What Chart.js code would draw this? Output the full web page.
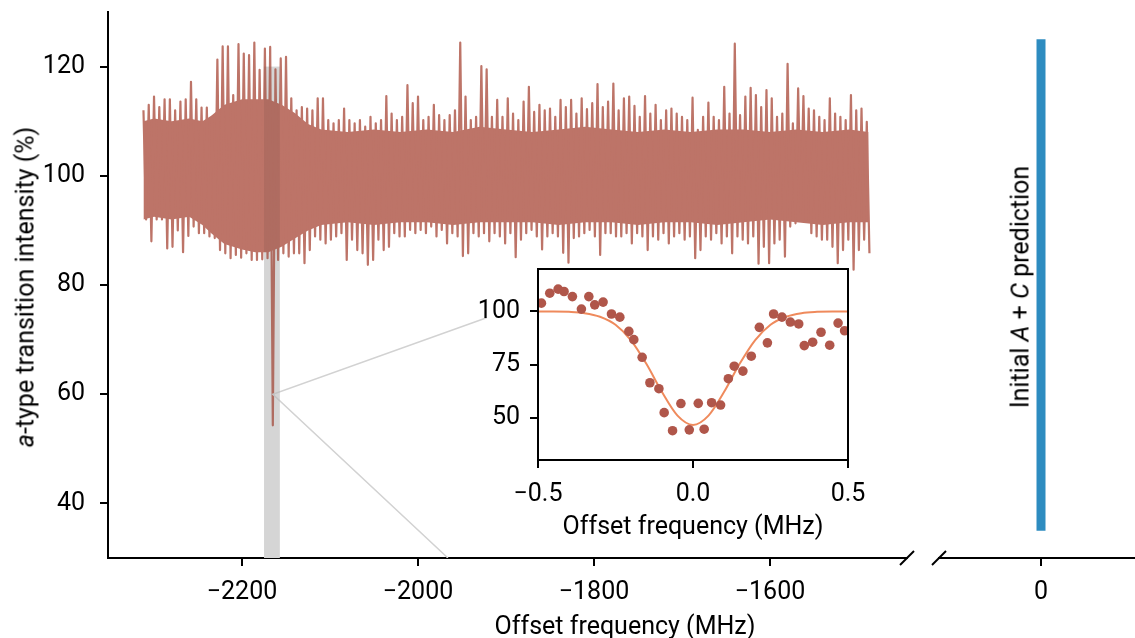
<!DOCTYPE html>
<html>
<head>
<meta charset="utf-8">
<script src="https://cdn.jsdelivr.net/npm/chart.js@4.4.1/dist/chart.umd.min.js"></script>
<style>
  html, body { margin: 0; padding: 0; background: #fff; }
  #fig { position: relative; width: 1135px; height: 638px; overflow: hidden; font-family: Roboto, sans-serif; color: #000; }
  .box { position: absolute; }
  .lab { position: absolute; font-size: 25px; line-height: 1; white-space: nowrap; transform: translate(-50%, -50%); }
  .rot { transform: translate(-50%, -50%) rotate(-90deg); }
</style>
</head>
<body>
<div id="fig">
  <div class="box" style="left:0;top:0;width:920px;height:638px"><canvas id="mainChart"></canvas></div>
  <div class="box" style="left:930px;top:0;width:205px;height:638px"><canvas id="sideChart"></canvas></div>
  <div class="box" style="left:470px;top:255px;width:410px;height:285px"><canvas id="insetChart"></canvas></div>
  <div class="lab rot" style="left:25px;top:287px"><i>a</i>-type transition intensity (%)</div>
  <div class="lab" style="left:625px;top:625px">Offset frequency (MHz)</div>
  <div class="lab" style="left:693px;top:525px">Offset frequency (MHz)</div>
  <div class="lab rot" style="left:1020px;top:287px">Initial <i>A</i> + <i>C</i> prediction</div>
</div>
<script>
// ------------------------------------------------------------
//  data
// ------------------------------------------------------------

// scan: one high and one low sample per 6 MHz step, starting at -2312 MHz
const traceStart = -2312;
const traceStep  = 6;
const traceHigh = [
  112, 113, 114.5, 112.6, 114, 114, 112, 113.6, 114, 117.2,
  114, 112.5, 112.5, 110.8, 121.3, 123.7, 123.7, 114.8, 124.1, 122.4,
  122.1, 124.4, 119.4, 123.3, 123.6, 119.5, 121.5, 121.8, 114.2, 112,
  112.6, 112.3, 112, 114.2, 114.2, 110.2, 109.6, 110.2, 112.3, 110.2,
  109.6, 110.2, 109, 110.8, 109.6, 110.2, 114.6, 111.4, 110.2, 110.8,
  116.6, 113.3, 114.5, 110.2, 110.8, 113, 111.1, 110.2, 111.1, 112,
  124.4, 114.5, 110.2, 110.8, 120.1, 119.5, 110.8, 113.9, 110.8, 114.2,
  111.4, 110.2, 113.6, 116.3, 111.7, 113, 112, 112.3, 110.8, 113.9,
  112.6, 113.9, 111.4, 114.2, 112.2, 113.3, 116.8, 112.6, 113.6, 116.9,
  112, 114.2, 114.5, 112.8, 110.8, 114.6, 111.4, 113, 110.2, 112,
  112.3, 111.4, 110.8, 110.2, 114.3, 108.4, 110.8, 113.4, 110.8, 110.2,
  116.3, 111.4, 124.2, 111.1, 114.5, 116.1, 114.8, 112.6, 115.7, 114.2,
  110.8, 111.4, 120.5, 109.6, 116, 114.6, 112.3, 112, 110.8, 110.2,
  114.2, 111.4, 110.8, 110.2, 114.8, 112, 112.3, 109.9
];
const traceLow = [
  92, 88, 92, 92, 86.7, 87, 90, 86, 89, 90.7,
  89.5, 89.5, 88.9, 88.6, 86.4, 85.8, 84.9, 85.5, 85, 85.8,
  84.6, 84.6, 84.7, 84.9, 54.3, 84.6, 85.8, 85.2, 85.8, 85.8,
  84, 86.4, 88.9, 88.3, 87.6, 88.3, 88.9, 89.5, 84.6, 88.3,
  86.4, 85.8, 83.7, 84.6, 88.3, 86.4, 87, 89.5, 88.9, 88.9,
  90.1, 89.5, 90.1, 89.5, 90.7, 88.9, 90.1, 87.6, 89.5, 88.9,
  85.3, 85.8, 89.5, 88.9, 89.5, 88, 89.5, 88.9, 87.6, 89.5,
  85.1, 88.3, 89.5, 90.1, 88.9, 86.5, 88.9, 89.5, 88.9, 85.9,
  84.1, 88.6, 88.9, 89.5, 90.1, 88.9, 85.5, 89.5, 89.5, 88.9,
  88.9, 89.5, 87.6, 89.5, 88.9, 86.4, 88.9, 88.3, 89.5, 87.6,
  88.9, 89.5, 88.3, 88.9, 84.9, 86.4, 88.9, 88.3, 89.5, 87.6,
  88.9, 85.8, 88.9, 88.3, 87.6, 88.9, 83.9, 87, 84, 87.6,
  88.3, 85.2, 90.7, 91.3, 93.1, 91.9, 89.5, 88.9, 88.3, 88.3,
  87, 84, 86.4, 88.3, 82.8, 86.4, 88.3, 85.8
];

// dense core of the noise band
const coreX  = [-2312, -2300, -2280, -2260, -2245, -2235, -2220, -2200, -2185, -2170, -2155, -2140, -2125, -2110,
                -2080, -2050, -2020, -1990, -1960, -1930, -1900, -1870, -1840, -1810, -1780, -1750, -1720,
                -1690, -1660, -1630, -1600, -1570, -1540, -1510, -1488];
const coreHi = [110, 110.5, 110, 110.5, 110, 111, 113, 114, 114, 114, 113, 111.5, 109.5, 108.5,
                108, 108.5, 108, 108.5, 108, 109, 108.5, 108, 108.5, 109, 108.5, 108, 108.5,
                108, 108.5, 108.5, 108, 108.5, 108, 108.5, 108];
const coreLo = [92, 92.5, 92, 92.5, 91, 89.5, 87.5, 86.5, 86, 86, 87, 88.5, 90, 91,
                91.5, 91, 91.5, 91.5, 91, 91.5, 91.5, 91.5, 91, 91.5, 91.5, 91, 91.5,
                91.5, 91, 91.5, 92, 91.5, 91, 91.5, 91.5];

// zoom window and connector lines to the inset
const bandRange  = [-2175, -2157];
const bandSpan   = [30, 120];
const connectorX = [-1922, -2165, -1966];
const connectorY = [74, 60, 30];

// initial A + C prediction
const predX = [0, 0];
const predY = [35, 125];

// inset: averaged scan and fit
const insetX = [-0.489, -0.462, -0.435, -0.416, -0.389, -0.360, -0.336, -0.317, -0.290, -0.263,
                -0.236, -0.207, -0.191, -0.164, -0.139, -0.110, -0.093, -0.066, -0.039, -0.012,
                 0.017,  0.036,  0.060,  0.089,  0.114,  0.133,  0.161,  0.188,  0.214,  0.240,
                 0.260,  0.287,  0.314,  0.341,  0.359,  0.386,  0.413,  0.441,  0.468,  0.489];
const insetY = [103.9, 108.6, 110.5, 109.4, 107.0, 101.1, 107.0, 103.1, 104.4, 98.8,
                97.3, 90.6, 86.7, 78.4, 66.4, 63.6, 52.3, 43.8, 56.6, 44.2,
                56.7, 44.5, 57.0, 55.9, 68.3, 74.2, 71.9, 78.9, 92.5, 85.2,
                98.8, 97.3, 95.0, 94.1, 83.9, 85.5, 90.2, 84.1, 94.5, 90.9];
const fitX = [-0.5, -0.45, -0.4, -0.35, -0.3, -0.25, -0.2, -0.15, -0.1, -0.05, 0, 0.05, 0.1, 0.15, 0.2, 0.25, 0.3, 0.35, 0.4, 0.45, 0.5];
const fitY = [100, 100, 99.8, 99.2, 97.5, 93.7, 86.4, 75.2, 62.0, 50.9, 46.5, 50.9, 62.0, 75.2, 86.4, 93.7, 97.5, 99.2, 99.8, 100, 100];

// ticks
const mainXTicks  = [-2200, -2000, -1800, -1600];
const sideXTicks  = [0];
const yTicks      = [40, 60, 80, 100, 120];
const insetXTicks = [-0.5, 0, 0.5];
const insetYTicks = [50, 75, 100];

// ------------------------------------------------------------

const RED  = '#bd7468';
const DOT  = '#b0564a';
const FIT  = '#ef8a5c';
const BLUE = '#2e8cc0';

Chart.defaults.font.family = 'Roboto';
Chart.defaults.font.size = 25;
Chart.defaults.color = '#000';

const minus = v => (v < 0 ? '\u2212' : '') + Math.abs(v);
const pairs = (xs, ys) => xs.map((x, i) => ({ x: x, y: ys[i] }));

const tracePoints = [];
traceHigh.forEach((h, k) => {
  const f = traceStart + k * traceStep;
  tracePoints.push({ x: f, y: h }, { x: f + traceStep / 2, y: traceLow[k] });
});

const tickGrid = { display: true, drawOnChartArea: false, drawTicks: true, tickLength: 8, lineWidth: 2, color: '#000', tickColor: '#000' };

function axisX(min, max, ticks, fmt, pad) {
  return {
    type: 'linear', min: min, max: max,
    afterBuildTicks: s => { s.ticks = ticks.map(v => ({ value: v })); },
    afterFit: s => { s.height = 80; s.paddingLeft = 0; s.paddingRight = 0; },
    border: { display: true, color: '#000', width: 2 },
    grid: tickGrid,
    ticks: { padding: pad, autoSkip: false, maxRotation: 0, callback: fmt }
  };
}

function axisY(min, max, ticks, width, pad, showLine) {
  return {
    min: min, max: max,
    afterBuildTicks: s => { s.ticks = ticks.map(v => ({ value: v })); },
    afterFit: s => { s.width = width; s.paddingTop = 0; s.paddingBottom = 0; },
    border: { display: showLine, color: '#000', width: 2 },
    grid: tickGrid,
    ticks: { padding: pad }
  };
}

// zoom band under the trace, slightly darkening it on top
function bandRect(chart) {
  const { x, y } = chart.scales;
  const x0 = x.getPixelForValue(bandRange[0]), x1 = x.getPixelForValue(bandRange[1]);
  const y0 = y.getPixelForValue(bandSpan[1]), y1 = y.getPixelForValue(bandSpan[0]);
  return [x0, y0, x1 - x0, y1 - y0];
}
const bandPlugin = {
  id: 'band',
  beforeDatasetsDraw(chart) {
    const ctx = chart.ctx;
    ctx.save();
    ctx.fillStyle = '#e6e6e6';
    ctx.fillRect(...bandRect(chart));
    ctx.restore();
  },
  afterDatasetsDraw(chart) {
    const ctx = chart.ctx;
    ctx.save();
    ctx.globalCompositeOperation = 'multiply';
    ctx.fillStyle = '#ededed';
    ctx.fillRect(...bandRect(chart));
    ctx.restore();
  }
};

// the "/" marks of the broken x axis
function breakMark(side) {
  return {
    id: 'break' + side,
    afterDraw(chart) {
      const { ctx, chartArea } = chart;
      const cx = side === 'right' ? chartArea.right : chartArea.left;
      const cy = chartArea.bottom;
      ctx.save();
      ctx.strokeStyle = '#000';
      ctx.lineWidth = 2;
      ctx.beginPath();
      ctx.moveTo(cx - 7, cy + 7);
      ctx.lineTo(cx + 7, cy - 7);
      ctx.stroke();
      ctx.restore();
    }
  };
}

new Chart(document.getElementById('mainChart'), {
  type: 'line',
  data: {
    datasets: [
      { data: pairs(connectorX, connectorY), borderColor: '#d2d2d2', borderWidth: 1.5, pointRadius: 0, fill: false, order: 1 },
      { data: tracePoints, borderColor: RED, borderWidth: 2.2, borderJoinStyle: 'round', pointRadius: 0, fill: false, order: 2 },
      { data: pairs(coreX, coreHi), borderWidth: 0, pointRadius: 0, fill: false, order: 3 },
      { data: pairs(coreX, coreLo), borderWidth: 0, pointRadius: 0, fill: '-1', backgroundColor: RED, order: 4 }
    ]
  },
  options: {
    responsive: true, maintainAspectRatio: false, animation: false,
    layout: { padding: { top: 12, right: 13, left: 0, bottom: 0 } },
    plugins: { legend: { display: false }, tooltip: { enabled: false } },
    scales: {
      x: axisX(-2352.3, -1444.3, mainXTicks, v => minus(v), 12),
      y: axisY(30, 130, yTicks, 108, 15, true)
    }
  },
  plugins: [bandPlugin, breakMark('right')]
});

new Chart(document.getElementById('sideChart'), {
  type: 'line',
  data: {
    datasets: [
      { data: pairs(predX, predY), borderColor: BLUE, borderWidth: 9, borderCapStyle: 'butt', pointRadius: 0, fill: false }
    ]
  },
  options: {
    responsive: true, maintainAspectRatio: false, animation: false,
    layout: { padding: { top: 12, right: 0, left: 9, bottom: 0 } },
    plugins: { legend: { display: false }, tooltip: { enabled: false } },
    scales: {
      x: axisX(-115.9, 106.8, sideXTicks, v => minus(v), 12),
      y: { display: false, min: 30, max: 130 }
    }
  },
  plugins: [breakMark('left')]
});

const insetFrame = {
  id: 'insetFrame',
  beforeDraw(chart) {
    const { ctx, chartArea: a } = chart;
    ctx.save();
    ctx.fillStyle = '#fff';
    ctx.fillRect(a.left, a.top, a.right - a.left, a.bottom - a.top);
    ctx.restore();
  },
  afterDraw(chart) {
    const { ctx, chartArea: a } = chart;
    ctx.save();
    ctx.strokeStyle = '#000';
    ctx.lineWidth = 2;
    ctx.strokeRect(a.left, a.top, a.right - a.left, a.bottom - a.top);
    ctx.restore();
  }
};

new Chart(document.getElementById('insetChart'), {
  type: 'scatter',
  data: {
    datasets: [
      { type: 'line', data: pairs(fitX, fitY), borderColor: FIT, borderWidth: 2, pointRadius: 0, cubicInterpolationMode: 'monotone', fill: false, order: 2 },
      { data: pairs(insetX, insetY), backgroundColor: DOT, borderWidth: 0, pointRadius: 4.8, order: 1 }
    ]
  },
  options: {
    responsive: true, maintainAspectRatio: false, animation: false,
    layout: { padding: { top: 14, right: 32, left: 0, bottom: 0 } },
    plugins: { legend: { display: false }, tooltip: { enabled: false } },
    scales: {
      x: axisX(-0.5, 0.5, insetXTicks, v => (v < 0 ? '\u2212' : '') + Math.abs(v).toFixed(1), 12),
      y: axisY(30, 120, insetYTicks, 68, 10, false)
    }
  },
  plugins: [insetFrame]
});
</script>
</body>
</html>
